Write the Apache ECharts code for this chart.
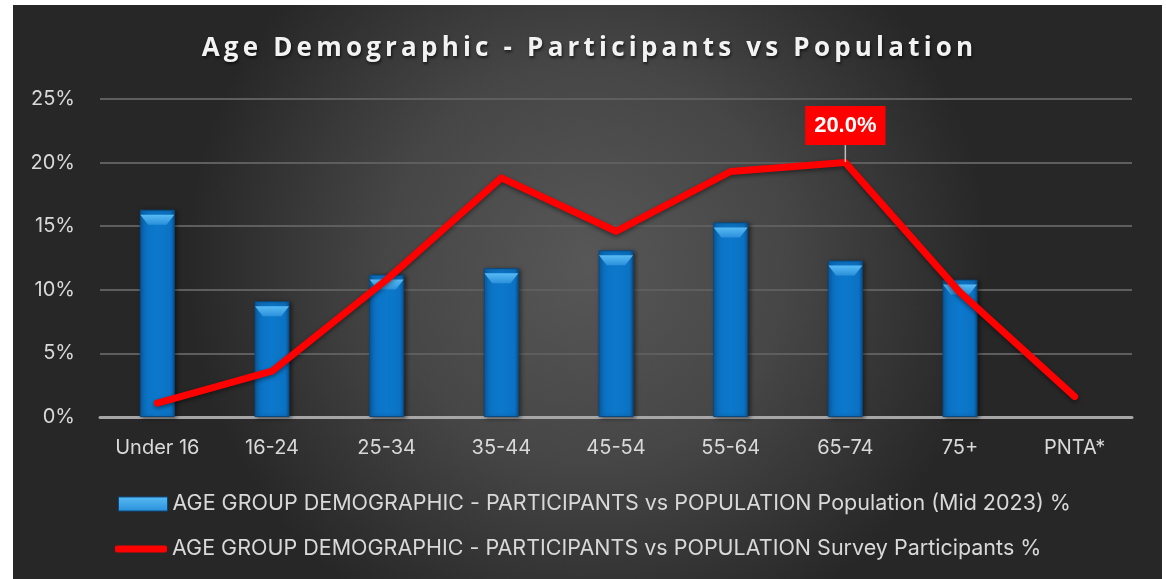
<!DOCTYPE html>
<html>
<head>
<meta charset="utf-8">
<script src="https://cdn.jsdelivr.net/npm/echarts@6/dist/echarts.min.js"></script>
<style>
html,body{margin:0;padding:0;background:#ffffff;}
#wrap{position:relative;width:1166px;height:579px;}
#chart{width:1166px;height:579px;}
#title{position:absolute;left:13px;width:1149px;top:28px;text-align:center;
  font-family:'Open Sans',sans-serif;font-weight:700;font-size:26px;letter-spacing:4.2px;padding-left:4px;box-sizing:border-box;
  color:#f2f2f2;text-shadow:1px 2px 3px rgba(0,0,0,0.6);line-height:36px;white-space:nowrap;}
</style>
</head>
<body>
<div id="wrap">
<div id="chart"></div>
<div id="title"></div>
</div>
<script>
const categories = ['Under 16','16-24','25-34','35-44','45-54','55-64','65-74','75+','PNTA*'];
const populationPct = [16.3, 9.1, 11.2, 11.7, 13.1, 15.3, 12.3, 10.8, null];
const participantsPct = [1.1, 3.6, 10.8, 18.8, 14.6, 19.3, 20.0, 9.8, 1.6];
const yTicks = [0, 5, 10, 15, 20, 25];
const titleText = 'Age Demographic - Participants vs Population';
const popName = 'AGE GROUP DEMOGRAPHIC - PARTICIPANTS vs POPULATION Population (Mid 2023) %';
const partName = 'AGE GROUP DEMOGRAPHIC - PARTICIPANTS vs POPULATION Survey Participants %';
const labelledIndex = 6;

document.getElementById('title').textContent = titleText;

const chart = echarts.init(document.getElementById('chart'), null, {renderer: 'canvas'});

const barFill = new echarts.graphic.LinearGradient(0, 0, 1, 0, [
  {offset: 0, color: '#0a5c a0'.replace(' ', '')},
  {offset: 0.12, color: '#0b72c4'},
  {offset: 0.5, color: '#0c78cc'},
  {offset: 0.88, color: '#0b72c4'},
  {offset: 1, color: '#0a5494'}
]);
const capFill = new echarts.graphic.LinearGradient(0, 0, 0, 1, [
  {offset: 0, color: '#58bbf5'},
  {offset: 1, color: '#2a90da'}
]);

const axisFont = {color: '#d9d9d9', fontSize: 20, fontFamily: 'Inter'};

const option = {
  backgroundColor: '#ffffff',
  animation: false,
  graphic: [{
    type: 'rect',
    z: -100,
    silent: true,
    shape: {x: 13, y: 5, width: 1149, height: 574},
    style: {
      fill: new echarts.graphic.RadialGradient(0.5, 0.45, 0.7, [
        {offset: 0, color: '#575757'},
        {offset: 0.5, color: '#464646'},
        {offset: 1, color: '#272727'}
      ])
    }
  }],
  grid: {left: 100, right: 34, top: 99, bottom: 162, containLabel: false},
  legend: [{
    orient: 'vertical',
    left: 113,
    top: 487,
    itemWidth: 49,
    itemHeight: 14,
    itemGap: 0,
    textStyle: {color: '#d9d9d9', fontSize: 21.5, fontFamily: 'Inter', lineHeight: 24},
    data: [{name: popName, icon: 'rect', itemStyle: {color: capFill, borderColor: '#0a4a80', borderWidth: 1}}]
  }, {
    orient: 'vertical',
    left: 110,
    top: 532,
    itemWidth: 52,
    itemHeight: 7,
    itemGap: 0,
    textStyle: {color: '#d9d9d9', fontSize: 21.5, fontFamily: 'Inter', lineHeight: 24},
    data: [{name: partName, icon: 'roundRect', itemStyle: {color: '#ff0000', borderWidth: 0}}]
  }],
  xAxis: {
    type: 'category',
    data: categories,
    axisTick: {show: false},
    axisLine: {lineStyle: {color: '#a6a6a6', width: 3}},
    axisLabel: Object.assign({margin: 21, interval: 0}, axisFont)
  },
  yAxis: {
    type: 'value',
    min: yTicks[0],
    max: yTicks[yTicks.length - 1],
    interval: 5,
    axisLine: {show: false},
    axisTick: {show: false},
    axisLabel: Object.assign({margin: 25, formatter: '{value}%'}, axisFont),
    splitLine: {lineStyle: {color: '#5e5e5e', width: 2}}
  },
  series: [
    {
      name: popName,
      type: 'bar',
      data: populationPct,
      barWidth: 35,
      z: 2,
      itemStyle: {color: barFill, borderColor: '#0a4a80', borderWidth: 1,
        shadowColor: 'rgba(0,0,0,0.5)', shadowBlur: 4, shadowOffsetX: 2, shadowOffsetY: 1}
    },
    {
      name: popName + ' cap',
      type: 'pictorialBar',
      data: populationPct,
      symbol: 'path://M0,0 L35,0 L27,9 L8,9 Z',
      symbolSize: [34, 10],
      symbolPosition: 'end',
      symbolOffset: [0, '50%'],
      z: 3,
      silent: true,
      itemStyle: {color: capFill}
    },
    {
      name: partName,
      type: 'line',
      data: participantsPct.map((v, i) => i === labelledIndex ? {
        value: v,
        label: {
          show: true,
          position: 'top',
          distance: 3,
          formatter: p => p.value.toFixed(1) + '%',
          color: '#ffffff',
          backgroundColor: '#ff0000',
          fontWeight: 'bold',
          fontSize: 22,
          fontFamily: 'Liberation Sans',
          padding: [9, 9, 8, 9]
        }
      } : v),
      symbol: 'circle',
      symbolSize: 1,
      showSymbol: true,
      z: 5,
      lineStyle: {color: '#ff0000', width: 7, cap: 'round', join: 'round',
        shadowColor: 'rgba(0,0,0,0.45)', shadowBlur: 4, shadowOffsetY: 2},
      itemStyle: {color: '#ff0000'},
      labelLayout: {dy: -14},
      labelLine: {show: true, lineStyle: {color: '#bfbfbf', width: 1.5}}
    }
  ]
};
chart.setOption(option);
</script>
</body>
</html>
